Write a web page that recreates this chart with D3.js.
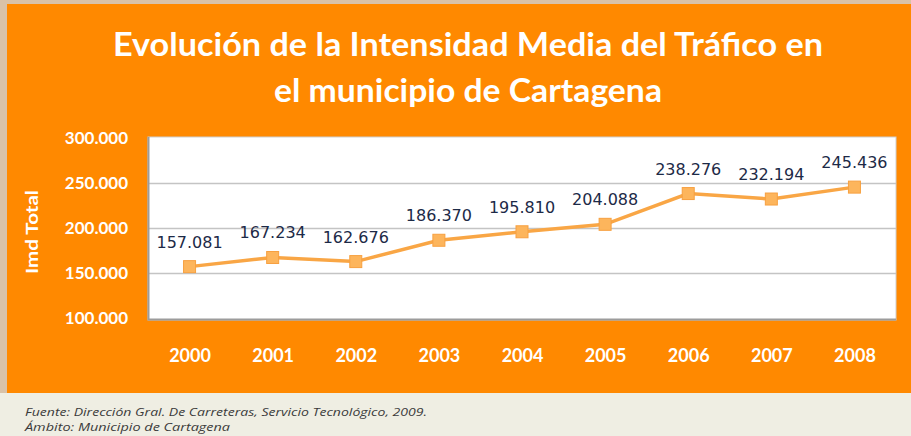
<!DOCTYPE html>
<html>
<head>
<meta charset="utf-8">
<script src="https://cdn.jsdelivr.net/npm/d3@7"></script>
<style>
  html, body { margin: 0; padding: 0; background: #efeee3; }
  svg { display: block; }
</style>
</head>
<body>
<div id="chart"></div>
<script>
// data
var years = ['2000', '2001', '2002', '2003', '2004', '2005', '2006', '2007', '2008'];
var imdTotal = [157081, 167234, 162676, 186370, 195810, 204088, 238276, 232194, 245436];
var yTicks = [100000, 150000, 200000, 250000, 300000];
var titleLines = ['Evolución  de la Intensidad  Media del Tráfico en', 'el municipio de Cartagena'];
var yTitle = 'Imd Total';
var notes = ['Fuente: Dirección Gral. De Carreteras, Servicio Tecnológico, 2009.', 'Ámbito: Municipio de Cartagena'];

var W = 911, H = 436;
var plot = {left: 148, right: 896, top: 137, bottom: 320};

var es = d3.formatLocale({decimal: ',', thousands: '.', grouping: [3], currency: ['', ' €']});
var fmt = es.format(',d');

var svg = d3.select('#chart').append('svg')
  .attr('width', W)
  .attr('height', H);

// background pieces
svg.append('rect').attr('x', 0).attr('y', 0).attr('width', W).attr('height', 393).attr('fill', '#d9c2a8');
svg.append('rect').attr('x', 7).attr('y', 4).attr('width', W - 7).attr('height', 389).attr('fill', '#ff8900');

// title
svg.selectAll('.title')
  .data(titleLines)
  .enter()
  .append('text')
  .attr('class', 'title')
  .attr('x', 468)
  .attr('y', function(d, i) { return i === 0 ? 56 : 102; })
  .attr('text-anchor', 'middle')
  .attr('textLength', function(d, i) { return i === 0 ? 710 : 388; })
  .attr('lengthAdjust', 'spacingAndGlyphs')
  .attr('fill', '#ffffff')
  .style('font-family', 'Lato, "Open Sans", sans-serif')
  .style('font-weight', 'bold')
  .style('font-size', '33px')
  .text(function(d) { return d; });

var x = d3.scalePoint().domain(years).range([plot.left, plot.right]).padding(0.5);
var y = d3.scaleLinear().domain([100000, 300000]).range([318, 138]);

// plot area
svg.append('rect')
  .attr('x', plot.left).attr('y', plot.top)
  .attr('width', plot.right - plot.left).attr('height', plot.bottom - plot.top)
  .attr('fill', '#ffffff')
  .attr('stroke', '#cfcfcf')
  .attr('stroke-width', 1);

// grid lines
var grid = svg.append('g')
  .attr('transform', 'translate(' + plot.left + ',0)')
  .call(d3.axisLeft(y).tickValues([150000, 200000, 250000]).tickSize(-(plot.right - plot.left)).tickFormat(''));
grid.select('.domain').remove();
grid.selectAll('line').attr('stroke', '#c4c4c4').attr('stroke-width', 1.5);

// shadow on left/bottom edges
svg.append('path')
  .attr('d', 'M' + (plot.left + 0.5) + ',' + plot.top + 'V' + (plot.bottom - 0.5) + 'H' + plot.right)
  .attr('fill', 'none')
  .attr('stroke', '#9c9c9c')
  .attr('stroke-width', 2);

// y axis labels
var yAxis = svg.append('g')
  .attr('transform', 'translate(128,0)')
  .call(d3.axisLeft(y).tickValues(yTicks).tickSize(0).tickPadding(0).tickFormat(fmt));
yAxis.select('.domain').remove();
yAxis.selectAll('text')
  .attr('fill', '#ffffff')
  .style('font-family', 'Lato, sans-serif')
  .style('font-weight', 'bold')
  .style('font-size', '17px');

svg.append('text')
  .attr('transform', 'translate(38,232) rotate(-90)')
  .attr('text-anchor', 'middle')
  .attr('textLength', 84)
  .attr('lengthAdjust', 'spacingAndGlyphs')
  .attr('fill', '#ffffff')
  .style('font-family', 'Lato, sans-serif')
  .style('font-weight', 'bold')
  .style('font-size', '17px')
  .text(yTitle);

// x axis labels
var xAxis = svg.append('g')
  .attr('transform', 'translate(0,340)')
  .call(d3.axisBottom(x).tickSize(0).tickPadding(9));
xAxis.select('.domain').remove();
xAxis.selectAll('text')
  .attr('fill', '#ffffff')
  .style('font-family', 'Lato, sans-serif')
  .style('font-weight', 'bold')
  .style('font-size', '18px');

// line
var line = d3.line()
  .x(function(d, i) { return x(years[i]); })
  .y(function(d) { return y(d); });

svg.append('path')
  .datum(imdTotal)
  .attr('d', line)
  .attr('fill', 'none')
  .attr('stroke', '#f9a645')
  .attr('stroke-width', 3.5);

svg.selectAll('.marker')
  .data(imdTotal)
  .enter()
  .append('rect')
  .attr('class', 'marker')
  .attr('x', function(d, i) { return x(years[i]) - 6; })
  .attr('y', function(d) { return y(d) - 6; })
  .attr('width', 12)
  .attr('height', 12)
  .attr('fill', '#fdb55c')
  .attr('stroke', '#f7a040')
  .attr('stroke-width', 1);

svg.selectAll('.val')
  .data(imdTotal)
  .enter()
  .append('text')
  .attr('class', 'val')
  .attr('x', function(d, i) { return x(years[i]); })
  .attr('y', function(d) { return y(d) - 19; })
  .attr('text-anchor', 'middle')
  .attr('fill', '#1d2a47')
  .style('font-family', '"DejaVu Sans", sans-serif')
  .style('font-size', '16px')
  .text(function(d) { return fmt(d); });

// footnote
svg.selectAll('.note')
  .data(notes)
  .enter()
  .append('text')
  .attr('class', 'note')
  .attr('x', 25)
  .attr('y', function(d, i) { return 416 + i * 15; })
  .attr('textLength', function(d, i) { return i === 0 ? 402 : 205; })
  .attr('lengthAdjust', 'spacingAndGlyphs')
  .attr('fill', '#3b3b3b')
  .style('font-family', '"Open Sans", sans-serif')
  .style('font-style', 'italic')
  .style('font-size', '11px')
  .text(function(d) { return d; });
</script>
</body>
</html>
